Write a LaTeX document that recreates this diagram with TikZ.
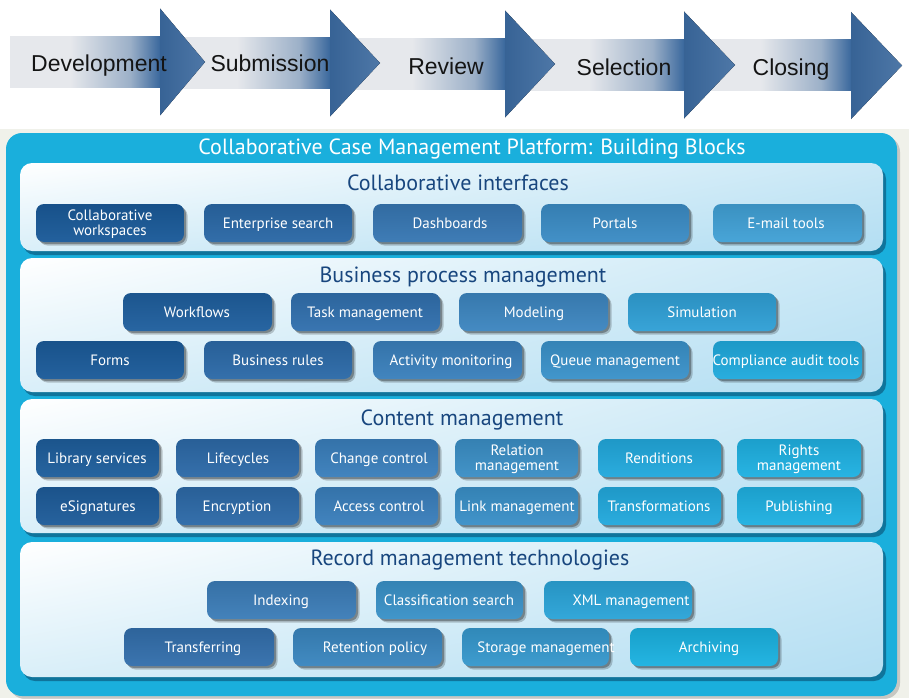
\documentclass[tikz,border=0pt]{standalone}
\usepackage{fontspec}
\setmainfont{PT Sans}
\newfontfamily\arrfont{Liberation Sans}
\usetikzlibrary{shadows,shadings}
\definecolor{cyanbox}{HTML}{1AAFDC}
\definecolor{bgbeige}{HTML}{F0F1EA}
\definecolor{ptitle}{HTML}{18467E}
\definecolor{pblue}{HTML}{B3DEF2}
\definecolor{pshadow}{HTML}{0E6A90}
\definecolor{arrL}{HTML}{E6E8EC}
\definecolor{arrM}{HTML}{9CB0C8}
\definecolor{arrB}{HTML}{3A689D}
\pgfdeclarehorizontalshading{shaftshade}{100bp}{color(0bp)=(arrL); color(25bp)=(arrL); color(45bp)=(arrL); color(65bp)=(arrM); color(75bp)=(arrB); color(100bp)=(arrB)}
\tikzset{
  shaftstyle/.style={shading=shaftshade},
  headstyle/.style={left color=arrB!95!black, right color=arrB!90!white},
  stagelabel/.style={font=\arrfont\fontsize{23}{26}\selectfont, text=black!92, inner sep=0pt, anchor=base},
  panelbox/.style={rounded corners=12pt, upper left=white, upper right=pblue!70!white, lower left=pblue!50!white, lower right=pblue,
     drop shadow={shadow xshift=3pt, shadow yshift=-4pt, opacity=.85, fill=pshadow}},
  paneltitle/.style={font=\fontsize{22}{25}\selectfont, text=ptitle, inner sep=0pt, anchor=base},
  btnbox/.style={rounded corners=8pt, minimum height=38pt, inner sep=0pt,
     drop shadow={shadow xshift=3.5pt, shadow yshift=-3.5pt, opacity=.2, fill=black},
     drop shadow={shadow xshift=2pt, shadow yshift=-2pt, opacity=.3, fill=black}},
  btntext/.style={font=\fontsize{15}{15}\selectfont, text=white, align=center, inner sep=0pt}
}
% name, left x, top y, width, colour, text x, text
\newcommand\mybtn[7]{%
  \definecolor{tmpc}{HTML}{#5}%
  \node[btnbox, top color=tmpc!90!black, bottom color=tmpc!96!white, minimum width=#4pt] (#1) at ({#2+#4/2},{#3+19}) {};
  \node[btntext, anchor=base] (#1t) at (#6,{#3+24}) {#7};}
% two-line label variant: name, left x, top y, width, colour, text x, line 1, line 2
\newcommand\mybtnii[8]{%
  \definecolor{tmpc}{HTML}{#5}%
  \node[btnbox, top color=tmpc!90!black, bottom color=tmpc!96!white, minimum width=#4pt] (#1) at ({#2+#4/2},{#3+19}) {};
  \node[btntext, font=\fontsize{15}{15.5}\selectfont] (#1t) at (#6,{#3+21}) {\strut#7\\\strut#8};}
\newcommand\stagearr[4]{% xs, xb, xt, yc
  \fill[shaftstyle] (#1,#4-25.5) rectangle (#2,#4+25.5);
  \fill[headstyle] (#2,#4-53.5) -- (#3,#4) -- (#2,#4+53.5) -- cycle;}
\begin{document}
\begin{tikzpicture}[x=1pt,y=-1pt]
\useasboundingbox (0,0) rectangle (909,698);
\fill[white] (0,0) rectangle (909,698);
% stage arrows (drawn right to left so each head overlaps the next shaft)
\stagearr{700}{851}{902}{65.5}
\stagearr{525}{684}{735}{65}
\stagearr{350}{505}{555}{64}
\stagearr{175}{330}{380}{63}
\stagearr{10}{160}{205}{62}
\node[stagelabel] (s1) at (99,72) {Development};
\node[stagelabel] (s2) at (270,72) {Submission};
\node[stagelabel] (s3) at (446,75) {Review};
\node[stagelabel] (s4) at (624,76) {Selection};
\node[stagelabel] (s5) at (791,76) {Closing};
% platform
\fill[bgbeige] (0,129) rectangle (909,698);
\fill[cyanbox, rounded corners=16pt, drop shadow={shadow xshift=3pt, shadow yshift=-3pt, opacity=.3, fill=black!60}] (6,133) rectangle (897,696);
\node[font=\fontsize{22}{25}\selectfont, text=white, inner sep=0pt, anchor=base] (title) at (472,154) {Collaborative Case Management Platform: Building Blocks};
% panels
\path[panelbox] (20,163) rectangle (883,251);
\path[panelbox] (20,258) rectangle (883,392);
\path[panelbox] (20,399) rectangle (883,533);
\path[panelbox] (20,542) rectangle (883,677);
\node[paneltitle] (p1) at (458,190) {Collaborative interfaces};
\node[paneltitle] (p2) at (463,282) {Business process management};
\node[paneltitle] (p3) at (462,425) {Content management};
\node[paneltitle] (p4) at (470,565) {Record management technologies};
% collaborative interfaces
\mybtnii{ci1}{36}{204}{148}{1A5A99}{110}{Collaborative}{workspaces}
\mybtn{ci2}{204}{204}{148}{2A68A6}{278}{Enterprise search}
\mybtn{ci3}{373}{204}{149}{3777B3}{450}{Dashboards}
\mybtn{ci4}{541}{204}{148}{3B8CC5}{615}{Portals}
\mybtn{ci5}{713}{204}{149}{41A1D6}{786}{E-mail tools}
% business process management
\mybtn{bp1}{123}{293}{149}{1F5F9E}{197}{Workflows}
\mybtn{bp2}{291}{293}{149}{3170AE}{365}{Task management}
\mybtn{bp3}{459}{293}{149}{3D86C0}{534}{Modeling}
\mybtn{bp4}{628}{293}{148}{30A0D6}{702}{Simulation}
\mybtn{bp5}{36}{341}{148}{1B5B9A}{110}{Forms}
\mybtn{bp6}{204}{341}{148}{2C6AA8}{278}{Business rules}
\mybtn{bp7}{373}{341}{149}{3A80BC}{451}{Activity monitoring}
\mybtn{bp8}{541}{341}{148}{3A92CA}{615}{Queue management}
\mybtn{bp9}{713}{341}{149}{20AADD}{786}{Compliance audit tools}
% content management
\mybtn{cm1}{36}{439}{123}{1E5E9C}{97}{Library services}
\mybtn{cm2}{176}{439}{123}{2D6AA8}{238}{Lifecycles}
\mybtn{cm3}{315}{439}{123}{3A7FBC}{379}{Change control}
\mybtnii{cm4}{455}{439}{123}{3B8FC6}{517}{Relation}{management}
\mybtn{cm5}{598}{439}{123}{22A9DD}{659}{Renditions}
\mybtnii{cm6}{737}{439}{124}{1FB1E2}{799}{Rights}{management}
\mybtn{cm7}{36}{487}{123}{1E5C9A}{98}{eSignatures}
\mybtn{cm8}{176}{487}{123}{2D6AA8}{237}{Encryption}
\mybtn{cm9}{315}{487}{123}{3A7FBC}{379}{Access control}
\mybtn{cm10}{455}{487}{123}{3A90C8}{517}{Link management}
\mybtn{cm11}{598}{487}{123}{22A9DD}{659}{Transformations}
\mybtn{cm12}{737}{487}{124}{1FB1E2}{799}{Publishing}
% record management
\mybtn{rm1}{207}{581}{149}{3C7DB8}{281}{Indexing}
\mybtn{rm2}{376}{581}{147}{3A92C8}{449}{Classification search}
\mybtn{rm3}{544}{581}{148}{2BA4D8}{631}{XML management}
\mybtn{rm4}{124}{628}{150}{336FAC}{203}{Transferring}
\mybtn{rm5}{293}{628}{149}{3A86BF}{375}{Retention policy}
\mybtn{rm6}{462}{628}{147}{3698CD}{546}{Storage management}
\mybtn{rm7}{630}{628}{148}{1BB2E1}{709}{Archiving}
\end{tikzpicture}
\end{document}
